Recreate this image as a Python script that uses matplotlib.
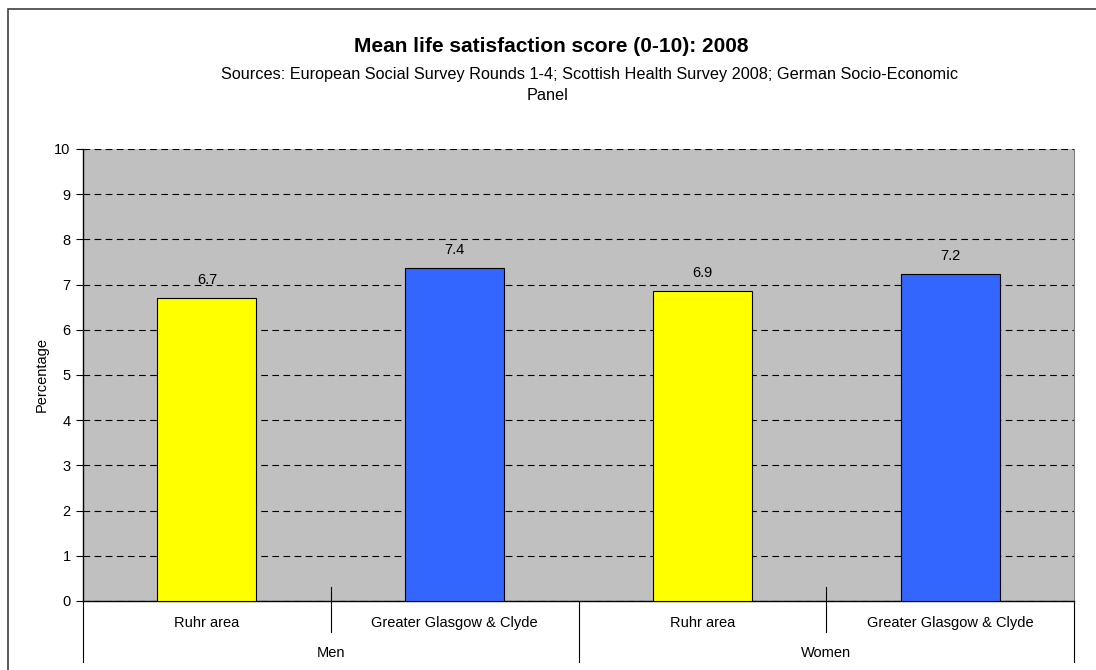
import matplotlib
matplotlib.use("Agg")
import matplotlib.pyplot as plt
from matplotlib.lines import Line2D
from matplotlib.patches import Rectangle

plt.rcParams['font.family'] = ['Liberation Sans', 'DejaVu Sans']

groups = ["Men", "Women"]
categories = ["Ruhr area", "Greater Glasgow & Clyde", "Ruhr area", "Greater Glasgow & Clyde"]
values = [6.7, 7.37, 6.86, 7.23]
value_labels = ["6.7", "7.4", "6.9", "7.2"]
colors = ["#FFFF00", "#3366FF", "#FFFF00", "#3366FF"]
yticks = list(range(0, 11))

W, H = 1096, 670
fig = plt.figure(figsize=(W / 100, H / 100), dpi=100)
fig.patch.set_facecolor("white")

# outer frame (right and bottom edges outside the image)
fig.add_artist(Rectangle((8 / W, -0.05), 1.2, 1 - 9 / H + 0.05, transform=fig.transFigure,
                         fill=False, edgecolor="#404040", linewidth=1.2))

left, right, top, bottom = 83, 1074, 149, 601
ax = fig.add_axes([left / W, 1 - bottom / H, (right - left) / W, (bottom - top) / H])
ax.set_facecolor("#C0C0C0")

fs = 10.5
x = list(range(len(categories)))
bars = ax.bar(x, values, width=0.4, color=colors, edgecolor="black", linewidth=0.8, zorder=3)
for xi, v, lab in zip(x, values, value_labels):
    ax.text(xi, v + 0.24, lab, ha="center", va="bottom", fontsize=fs, zorder=4)

ax.set_xlim(-0.5, len(categories) - 0.5)
ax.set_ylim(0, 10)
ax.set_yticks(yticks)
ax.set_yticklabels([str(t) for t in yticks], fontsize=fs)
ax.yaxis.grid(True, linestyle=(0, (6, 4)), color="black", linewidth=0.8, zorder=1)
ax.set_axisbelow(True)
ax.tick_params(axis="y", direction="out", length=5, width=0.8, pad=4)
ax.set_xticks([])
ax.spines["top"].set_visible(False)
ax.spines["right"].set_color("#808080")
ax.spines["left"].set_linewidth(1.0)
ax.spines["bottom"].set_linewidth(1.0)
ax.set_ylabel("Percentage", fontsize=fs, labelpad=4)

# multi-level category axis
trans = ax.get_xaxis_transform()
ph = bottom - top
for i, cat in enumerate(categories):
    ax.text(i, -22 / ph, cat, transform=trans, ha="center", va="center", fontsize=fs)
for gi, g in enumerate(groups):
    ax.text(gi * 2 + 0.5, -52 / ph, g, transform=trans, ha="center", va="center", fontsize=fs)
short = -31 / ph
long_ = -61 / ph
for xb in [-0.5, 1.5, 3.5]:
    ax.add_line(Line2D([xb, xb], [0, long_], transform=trans, color="black", linewidth=0.8, clip_on=False))
for xb in [0.5, 2.5]:
    ax.add_line(Line2D([xb, xb], [0.03, short], transform=trans, color="black", linewidth=0.8, clip_on=False))

fig.text(551 / W, 1 - 47 / H, "Mean life satisfaction score (0-10): 2008", ha="center", va="center",
         fontsize=15, fontweight="bold")
fig.text(590 / W, 1 - 74 / H, "Sources: European Social Survey Rounds 1-4; Scottish Health Survey 2008; German Socio-Economic",
         ha="center", va="center", fontsize=11.7)
fig.text(548 / W, 1 - 95 / H, "Panel", ha="center", va="center", fontsize=11.7)

fig.savefig("out.png", dpi=100)
